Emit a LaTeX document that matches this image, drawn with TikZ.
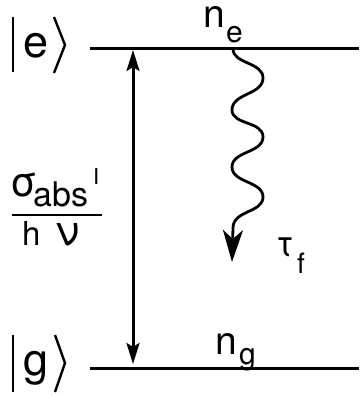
\documentclass[tikz,border=0pt]{standalone}
\usepackage{fontspec}
\setmainfont{TeX Gyre Heros}
\usetikzlibrary{arrows.meta}
\newcommand\myfs[1]{\fontsize{#1}{#1}\selectfont}
\begin{document}
\begin{tikzpicture}[x=1pt,y=-1pt,
  level/.style={line width=3pt},
  ketline/.style={line width=2.4pt,line join=miter},
  lbl/.style={inner sep=0pt,anchor=base west},
  xh/.style={text height=0.55em,text depth=0.2em},
  absorb/.style={line width=3pt,{Stealth[length=21pt,width=13pt,inset=4pt]}-{Stealth[length=21pt,width=13pt,inset=4pt]}},
  wave/.style={line width=2.8pt,-{Stealth[length=32pt,width=20pt,inset=9pt]}}]
\useasboundingbox (0,0) rectangle (359,396);
% levels
\coordinate (eA) at (90,49);
\coordinate (eB) at (359,49);
\coordinate (gA) at (90,368);
\coordinate (gB) at (359,368);
\draw[level] (eA) -- (eB);
\draw[level] (gA) -- (gB);
% kets
\node[lbl,xh,font=\myfs{45}] (e) at (23,57) {e};
\draw[ketline] (13,17) -- (13,72);
\draw[ketline] (54,17) -- (65,45) -- (54,73);
\node[lbl,xh,font=\myfs{45}] (g) at (23,375) {g};
\draw[ketline] (13,335) -- (13,392);
\draw[ketline] (55,335) -- (65,363) -- (55,392);
% populations
\node[lbl,xh,font=\myfs{39}] (ne) at (203,28) {n};
\node[lbl,xh,font=\myfs{30}] (nesub) at (226,43) {e};
\node[lbl,xh,font=\myfs{39}] (ng) at (215,354) {n};
\node[lbl,xh,font=\myfs{30}] (ngsub) at (239,364) {g};
% fraction
\node[lbl,font=\myfs{41}] (sig) at (10,196) {σ};
\node[lbl,font=\myfs{34}] (abs) at (33,206) {abs};
\node[lbl,font=\myfs{22}] (I) at (93,184) {I};
\coordinate (fA) at (12,215);
\coordinate (fB) at (102,215);
\draw[line width=1.5pt] (fA) -- (fB);
\node[lbl,font=\myfs{33}] (h) at (22,245) {h};
\node[lbl,font=\myfs{42}] (nu) at (55,245) {ν};
% lifetime
\node[lbl,font=\myfs{36}] (tau) at (276,256) {τ};
\node[lbl,font=\myfs{28}] (tausub) at (297,273) {f};
% absorption arrow
\coordinate (at) at (133,50);
\coordinate (ab) at (133,364);
\draw[absorb] (ab) -- (at);
% emission wave
\coordinate (w0) at (233,49);
\coordinate (w1) at (232,262);
\draw[wave] (w0) .. controls (233,64) and (263,62) .. (263,78)
  .. controls (263,95) and (232,93) .. (232,110)
  .. controls (232,125) and (263,121) .. (263,137)
  .. controls (263,153) and (232,151) .. (232,167)
  .. controls (232,183) and (263,181) .. (263,197)
  .. controls (263,213) and (233,210) .. (233,228) -- (w1);
\end{tikzpicture}
\end{document}
